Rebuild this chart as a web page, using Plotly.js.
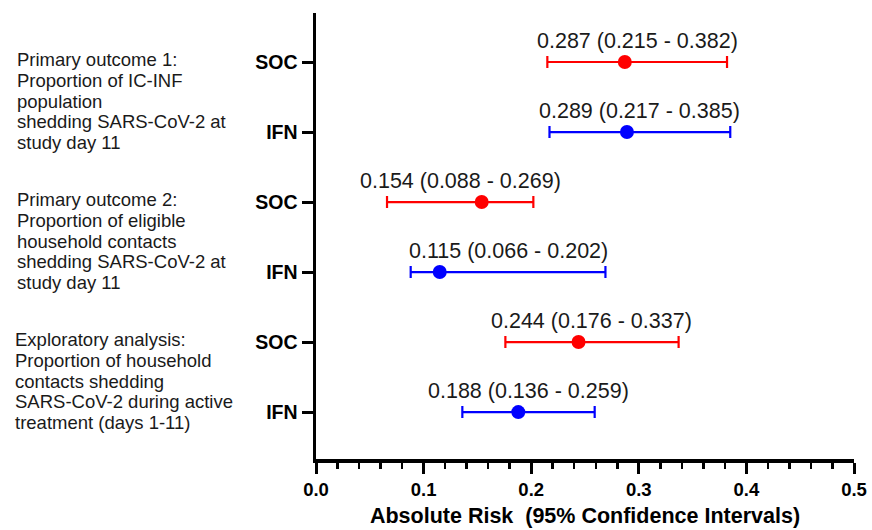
<!DOCTYPE html>
<html>
<head>
<meta charset="utf-8">
<script src="https://cdn.plot.ly/plotly-3.0.1.min.js"></script>
<style>html,body{margin:0;padding:0;background:#fff;}#chart{width:872px;height:530px;}</style>
</head>
<body>
<div id="chart"></div>
<script>
// ---- data ----
const rowPos = [6, 5, 4, 3, 2, 1];           // top to bottom
const rowNames = ["SOC", "IFN", "SOC", "IFN", "SOC", "IFN"];
const socRows = [6, 4, 2];
const ifnRows = [5, 3, 1];
const socEst = [0.287, 0.154, 0.244];
const socLo  = [0.215, 0.066, 0.176];
const socHi  = [0.382, 0.202, 0.337];
const ifnEst = [0.289, 0.115, 0.188];
const ifnLo  = [0.217, 0.088, 0.136];
const ifnHi  = [0.385, 0.269, 0.259];
const socLabels = ["0.287 (0.215 - 0.382)", "0.154 (0.088 - 0.269)", "0.244 (0.176 - 0.337)"];
const ifnLabels = ["0.289 (0.217 - 0.385)", "0.115 (0.066 - 0.202)", "0.188 (0.136 - 0.259)"];
const groupLines = [
  ["Primary outcome 1:", "Proportion of IC-INF", "population", "shedding SARS-CoV-2 at", "study day 11"],
  ["Primary outcome 2:", "Proportion of eligible", "household contacts", "shedding SARS-CoV-2 at", "study day 11"],
  ["Exploratory analysis:", "Proportion of household", "contacts shedding", "SARS-CoV-2 during active", "treatment (days 1-11)"]
];
const groupCenters = [5.5, 3.5, 1.5];
const xTitle = "Absolute Risk  (95% Confidence Intervals)";

const RED = "#ff0000", BLUE = "#0000ff";
const FONT = "Liberation Sans, Arial, sans-serif";

function ciTrace(rows, est, lo, hi, color) {
  return {
    type: "scatter", mode: "markers",
    x: est, y: rows,
    marker: {color: color, size: 14},
    error_x: {
      type: "data", symmetric: false,
      array: est.map((v, i) => hi[i] - v),
      arrayminus: est.map((v, i) => v - lo[i]),
      color: color, thickness: 2.2, width: 6
    },
    hoverinfo: "skip", showlegend: false, cliponaxis: false
  };
}

const traces = [
  ciTrace(socRows, socEst, socLo, socHi, RED),
  ciTrace(ifnRows, ifnEst, ifnLo, ifnHi, BLUE)
];

const annotations = [];
function addLabels(rows, lo, hi, labels) {
  rows.forEach((r, i) => {
    annotations.push({
      x: (lo[i] + hi[i]) / 2, y: r, xref: "x", yref: "y",
      text: labels[i], showarrow: false, yanchor: "middle", xanchor: "center",
      yshift: 21, font: {family: FONT, size: 21.5, color: "#1a1a1a"}
    });
  });
}
addLabels(socRows, socLo, socHi, socLabels);
addLabels(ifnRows, ifnLo, ifnHi, ifnLabels);

const L = 316, R = 18, plotW = 872 - L - R;
groupLines.forEach((lines, g) => {
  const n = lines.length;
  lines.forEach((t, i) => {
    annotations.push({
      x: ((g === 2 ? 12.5 : 15) - L) / plotW, xref: "paper",
      y: groupCenters[g], yref: "y",
      yshift: -((i - (n - 1) / 2) * 20.8) - 4,
      text: t, showarrow: false, xanchor: "left", yanchor: "middle", align: "left",
      font: {family: FONT, size: 18.5, color: "#1a1a1a"}
    });
  });
});

const layout = {
  width: 872, height: 530,
  margin: {l: L, r: R, t: 13, b: 71, pad: 0},
  paper_bgcolor: "#fff", plot_bgcolor: "#fff",
  xaxis: {
    range: [0, 0.5], dtick: 0.1, tick0: 0, tickformat: ".1f",
    showgrid: false, zeroline: false,
    showline: true, linecolor: "#000", linewidth: 3.5,
    ticks: "outside", ticklen: 11, tickwidth: 3, tickcolor: "#000",
    minor: {dtick: 0.02, ticks: "outside", ticklen: 6, tickwidth: 2.5, tickcolor: "#000", showgrid: false},
    tickfont: {family: FONT, size: 18.5, color: "#000", weight: "bold"},
    ticklabelstandoff: 0,
    title: {text: xTitle, standoff: 10, font: {family: FONT, size: 21.5, color: "#000", weight: "bold"}},
    fixedrange: true, automargin: false
  },
  yaxis: {
    range: [0.33, 6.7],
    tickvals: rowPos, ticktext: rowNames,
    showgrid: false, zeroline: false,
    showline: true, linecolor: "#000", linewidth: 3.5,
    ticks: "outside", ticklen: 11, tickwidth: 3, tickcolor: "#000",
    tickfont: {family: FONT, size: 19.5, color: "#000", weight: "bold"},
    ticklabelstandoff: 0,
    fixedrange: true, automargin: false
  },
  annotations: annotations,
  hovermode: false
};

Plotly.newPlot("chart", traces, layout, {displayModeBar: false, staticPlot: true});
</script>
</body>
</html>
